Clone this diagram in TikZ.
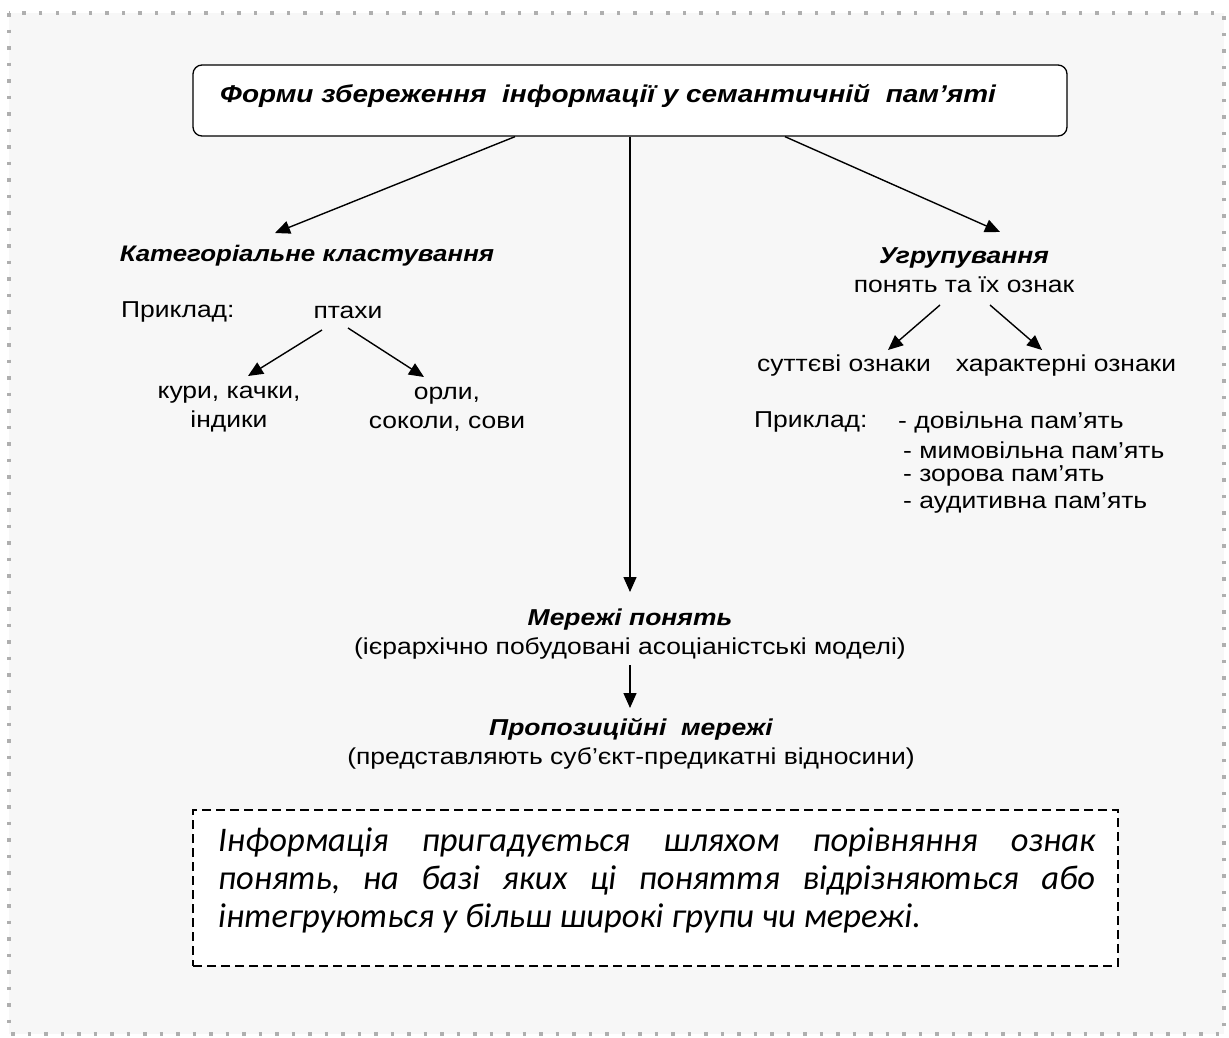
\documentclass[tikz,border=0pt]{standalone}
\usepackage{fontspec}
\setmainfont[FakeStretch=1.15]{Liberation Sans}
\newfontfamily\notefont{Carlito}
\usetikzlibrary{arrows.meta,calc}
\definecolor{pagebg}{RGB}{247,247,247}
\definecolor{framegray}{RGB}{175,175,175}

\tikzset{
  txt/.style={inner sep=0pt, font=\fontsize{23}{29}\selectfont},
  head/.style={inner sep=0pt, font=\fontsize{22.5}{29}\selectfont\bfseries\itshape},
  arr/.style={line width=1.4pt, -{Triangle[length=15pt,width=13pt]}},
  titlebox/.style={draw, line width=1.3pt, rounded corners=9pt, fill=white,
    minimum width=874pt, minimum height=71pt, inner sep=0pt},
  notebox/.style={draw, line width=1.8pt, dash pattern=on 9pt off 5pt, fill=white,
    minimum width=925pt, minimum height=156pt, inner sep=0pt},
  notetxt/.style={inner sep=0pt, anchor=base west, font=\notefont\itshape\fontsize{34.5}{38}\selectfont}
}

\begin{document}
\begin{tikzpicture}[x=1pt,y=-1pt]
\useasboundingbox (0,0) rectangle (1229,1037);
\fill[white] (0,0) rectangle (1229,1037);
% outer dotted frame
\draw[fill=pagebg, draw=framegray, line width=3.5pt, dash pattern=on 3.5pt off 13pt]
  (9,13) rectangle (1224,1034);

% title
\node[titlebox] (top) at (630,100.5) {};
\node[head, anchor=west, font=\fontsize{24.3}{28}\selectfont\bfseries\itshape] (title) at (220,96)
  {Форми збереження\ \ інформації у семантичній\ \ пам’яті};

% left branch
\node[head] (kat) at (307,256) {Категоріальне кластування};
\node[txt, anchor=west] (ex1) at (121,312) {Приклад:};
\node[txt] (birds) at (348,312) {птахи};
\node[txt, align=center] (chick) at (229,409) {кури, качки,\\індики};
\node[txt, align=center] (eagle) at (447,409) {орли,\\соколи, сови};

% right branch
\node[txt, align=center] (ugr) at (964,270) {{\bfseries\itshape Угрупування}\\понять та їх ознак};
\node[txt] (ess) at (844,366) {суттєві ознаки};
\node[txt] (char) at (1066,366) {характерні ознаки};
\node[txt, anchor=west] (ex2) at (754,422) {Приклад:};
\node[txt, anchor=west] (m1) at (898,422) {- довільна пам’ять};
\node[txt, anchor=west] (m2) at (903,450) {- мимовільна пам’ять};
\node[txt, anchor=west] (m3) at (903,476) {- зорова пам’ять};
\node[txt, anchor=west] (m4) at (903,503) {- аудитивна пам’ять};

% centre column
\node[txt, align=center] (net) at (630,634) {{\bfseries\itshape Мережі понять}\\(ієрархічно побудовані асоціаністські моделі)};
\node[txt, align=center] (prop) at (631,744) {{\bfseries\itshape Пропозиційні\ \ мережі}\\(представляють суб’єкт-предикатні відносини)};

% note
\node[notebox] (note) at (655.5,888) {};
\node[notetxt] (n1) at (218,851) {\hbox to 877pt{Інформація\hfill пригадується\hfill шляхом\hfill порівняння\hfill ознак}};
\node[notetxt] (n2) at (218,889) {\hbox to 877pt{понять,\hfill на\hfill базі\hfill яких\hfill ці\hfill поняття\hfill відрізняються\hfill або}};
\node[notetxt] (n3) at (218,927) {інтегруються у більш широкі групи чи мережі.};

% connectors
\draw[arr] ([xshift=-115pt]top.south) -- ($(kat.center)+(-32,-23)$);
\draw[arr] (top.south) -- ($(net.center)+(0,-42)$);
\draw[arr] ([xshift=155pt]top.south) -- ($(ugr.center)+(36,-38)$);
\draw[arr] ($(birds.center)+(-26,18)$) -- ($(chick.center)+(19,-33)$);
\draw[arr] ($(birds.center)+(0,16)$) -- ($(eagle.center)+(-23,-32)$);
\draw[arr] ($(ugr.center)+(-24,35)$) -- ($(ess.center)+(44,-16)$);
\draw[arr] ($(ugr.center)+(26,35)$) -- ($(char.center)+(-24,-16)$);
\draw[arr] ($(net.center)+(0,31)$) -- ($(prop.center)+(-1,-36)$);
\end{tikzpicture}
\end{document}
